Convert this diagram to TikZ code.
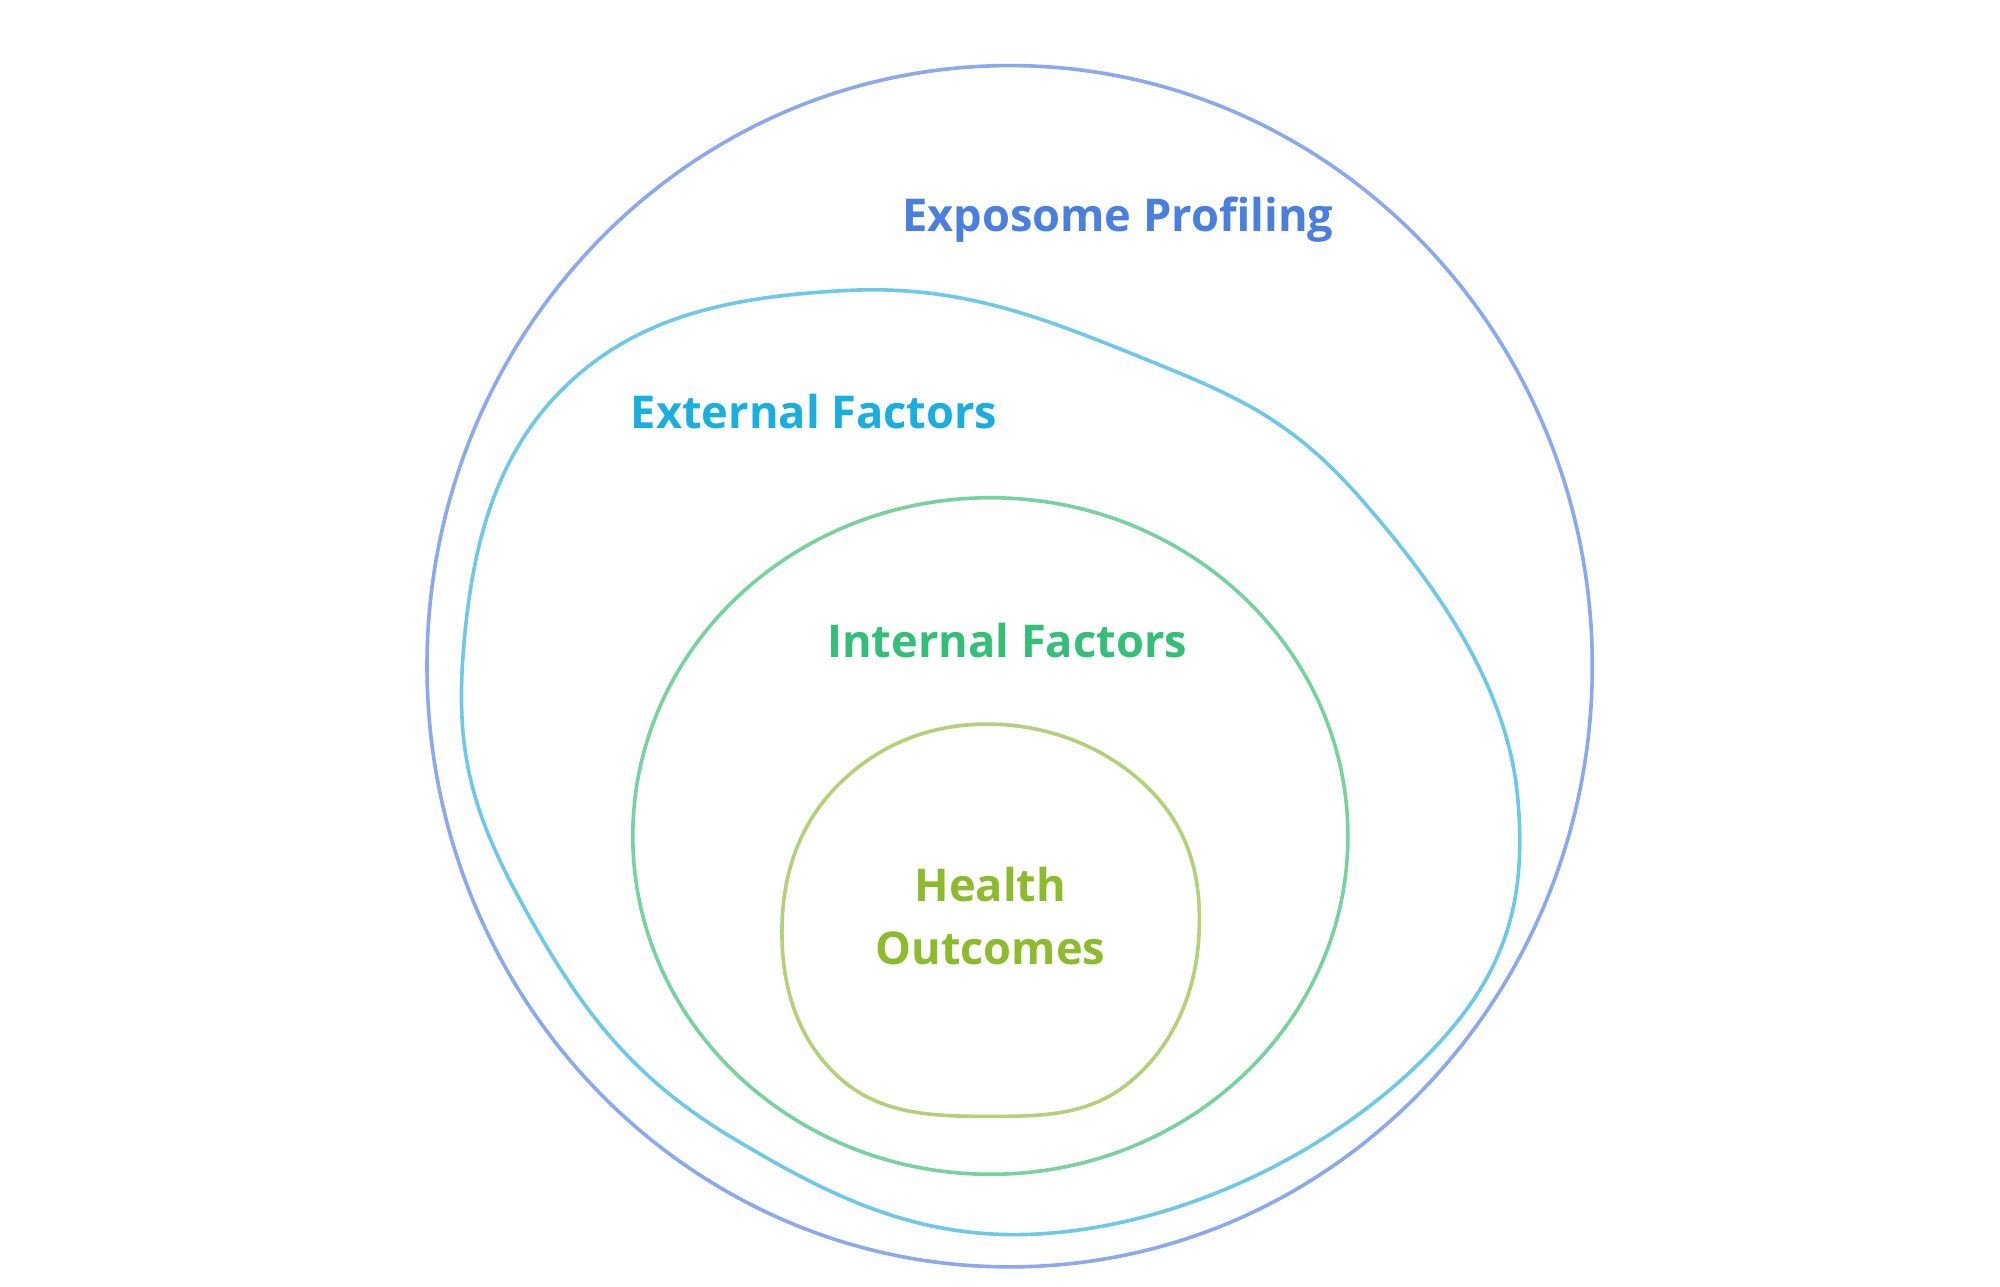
\documentclass[tikz,border=0pt]{standalone}
\usepackage{fontspec}
\setmainfont{Open Sans}
\definecolor{expoBlue}{RGB}{74,127,224}
\definecolor{expoRing}{RGB}{140,168,238}
\definecolor{extCyan}{RGB}{26,173,224}
\definecolor{extRing}{RGB}{110,200,232}
\definecolor{intGreen}{RGB}{52,190,120}
\definecolor{intRing}{RGB}{120,210,160}
\definecolor{hlthGreen}{RGB}{141,187,46}
\definecolor{hlthRing}{RGB}{180,208,120}
\tikzset{
  ring/.style={line width=1.6pt},
  lbl/.style={font=\fontsize{20}{24}\selectfont\bfseries, align=center}
}
\begin{document}
\begin{tikzpicture}[x=0.02cm,y=-0.02cm]

    % page
    \useasboundingbox (0,0) rectangle (1555,1000);

    % Outer ring
    \draw[ring, expoRing] (785,518) ellipse [x radius=453, y radius=467];

    % External blob
    \draw[ring, extRing] plot[smooth cycle, tension=0.7] coordinates {
      (655,226) (880,275) (1060,390) (1180,620) (1100,830)
      (825,958) (570,885) (410,710) (360,510) (440,300)};

    % Internal ring
    \draw[ring, intRing] (770,650) ellipse [x radius=278, y radius=263];

    % Health ring
    \draw[ring, hlthRing] plot[smooth cycle, tension=0.7] coordinates {
      (770,563) (895,615) (932,730) (880,840) (770,868)
      (655,840) (608,730) (650,612)};

    % Labels
    \node[lbl, text=expoBlue] (expo) at (869,171) {Exposome Profiling};
    \node[lbl, text=extCyan] (ext) at (633,320) {External Factors};
    \node[lbl, text=intGreen] (int) at (783,498) {Internal Factors};
    \node[lbl, text=hlthGreen] (hlth) at (770,712) {Health\\[4pt]Outcomes};

\end{tikzpicture}
\end{document}
